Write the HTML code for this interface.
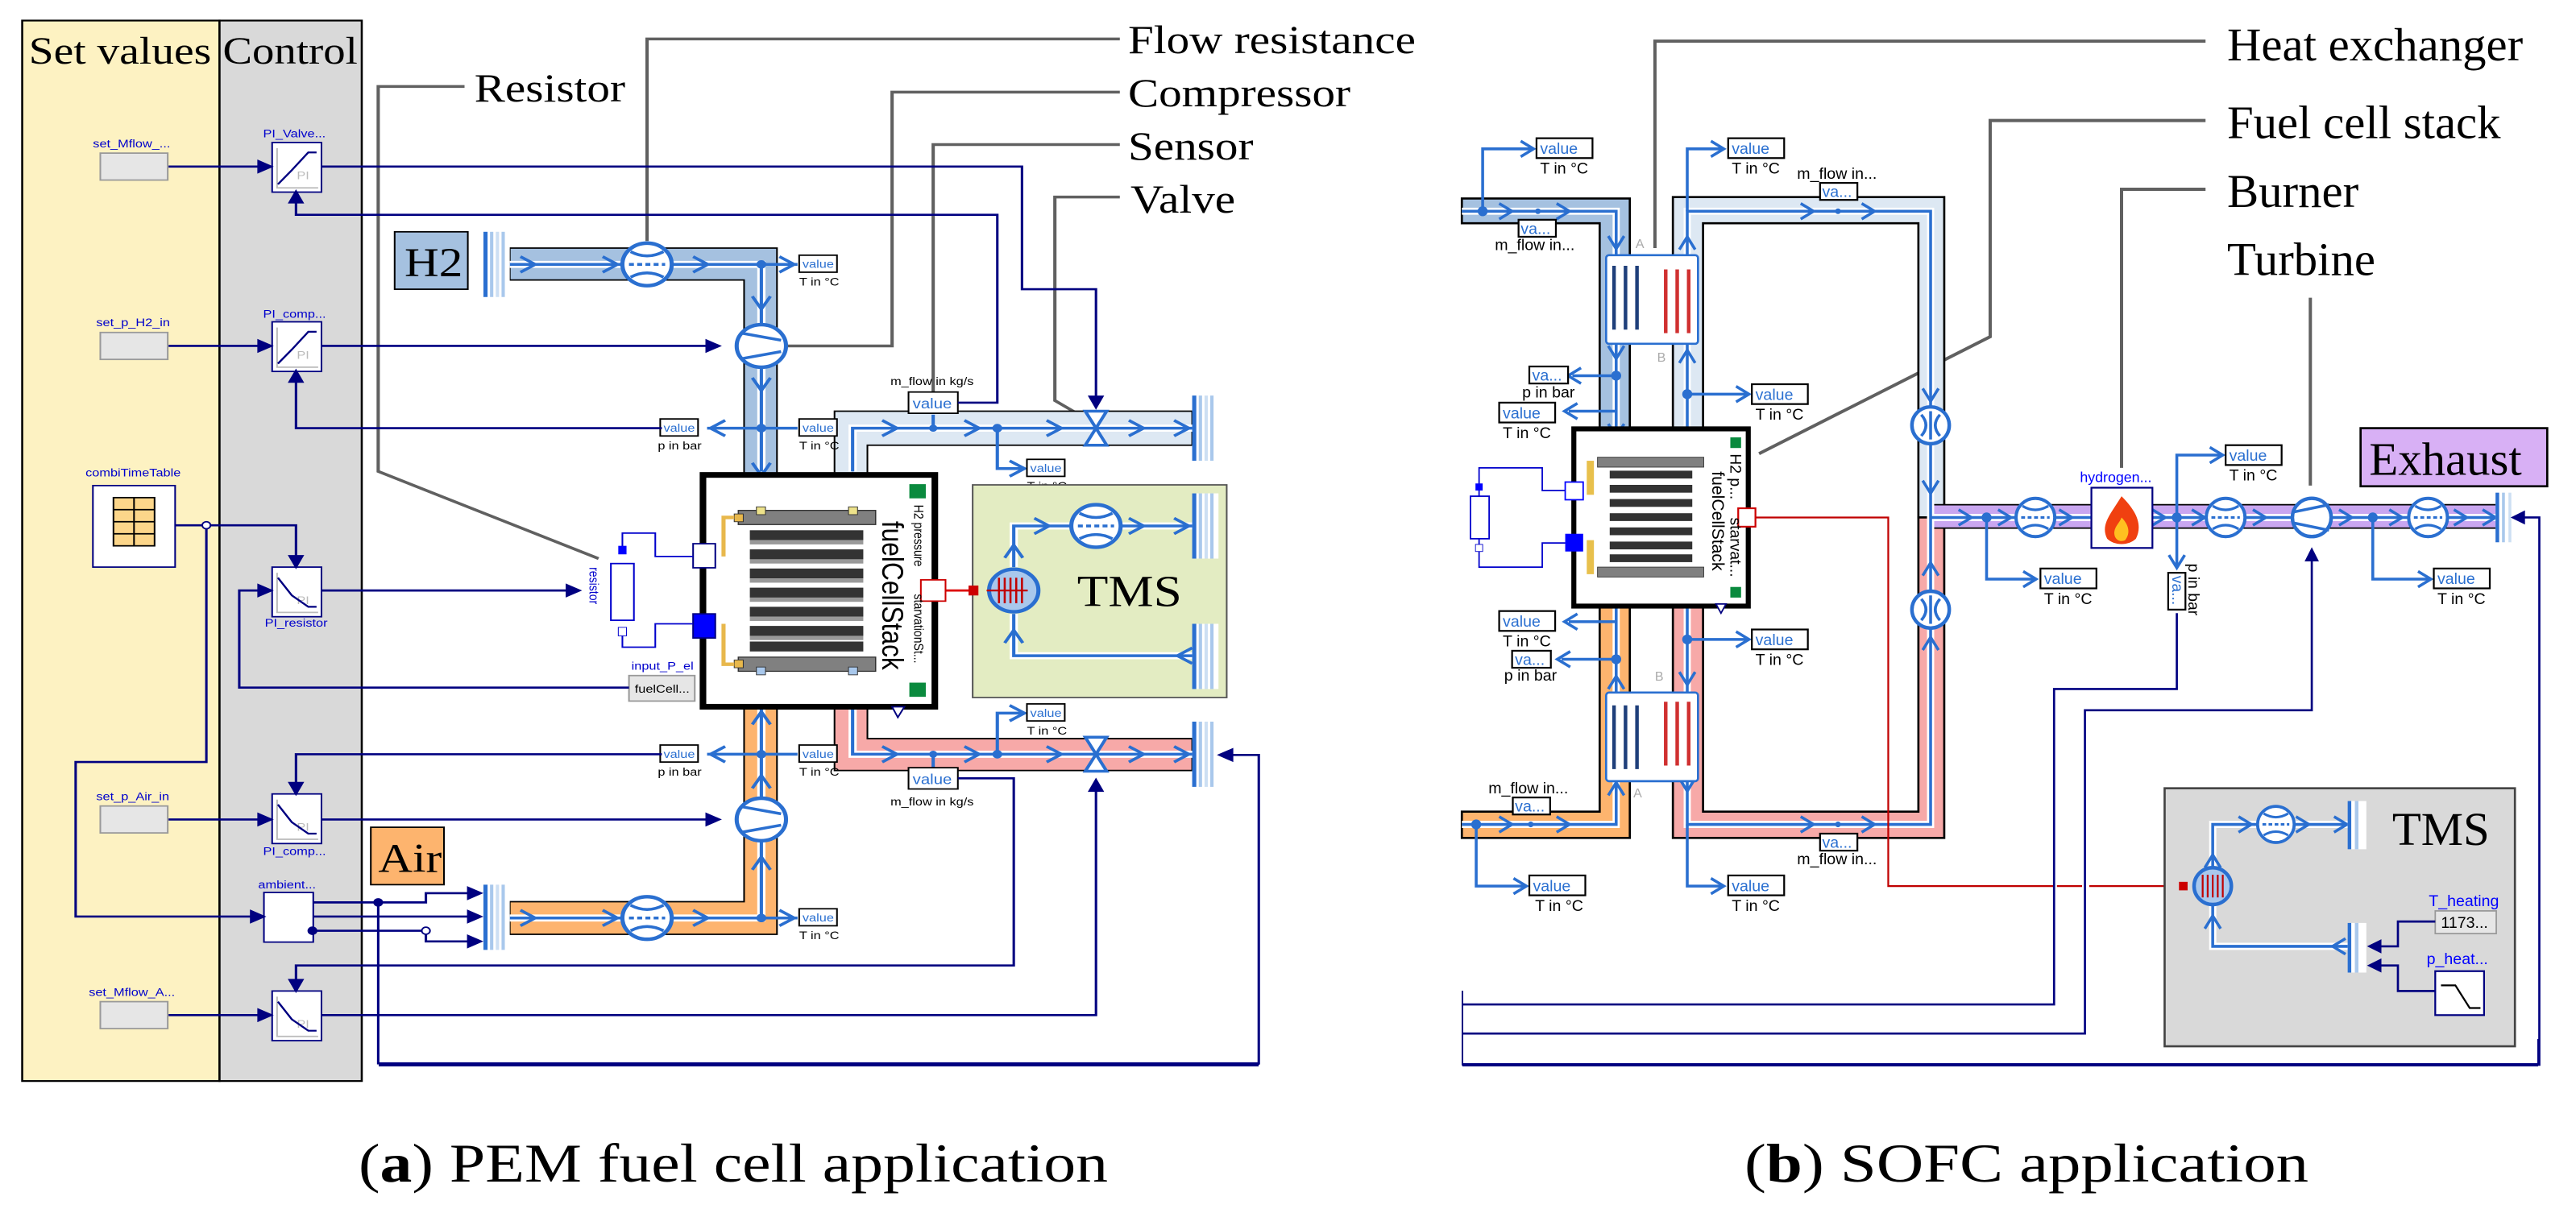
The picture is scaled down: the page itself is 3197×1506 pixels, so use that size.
<!DOCTYPE html>
<html><head><meta charset="utf-8"><style>
html,body{margin:0;padding:0;background:#fff;}
svg{display:block;}
.s{font-family:"Liberation Serif",serif;}
.a{font-family:"Liberation Sans",sans-serif;}
</style></head><body>
<svg width="3197" height="1506" viewBox="0 0 3197 1506" xmlns="http://www.w3.org/2000/svg">
<defs>
<path id="chR" d="M-12,-11 L6,0 L-12,11" fill="none" stroke="#2a6fd0" stroke-width="4"/>
<path id="arN" d="M-12,-10 L8,0 L-12,10Z" fill="#000080"/>
<g id="fr"><circle r="30" fill="#fff" stroke="#2a6fd0" stroke-width="5"/><line x1="-22" y1="0" x2="22" y2="0" stroke="#2a6fd0" stroke-width="4" stroke-dasharray="6,4"/><path d="M-20,-18 Q0,-6 20,-18 M-20,18 Q0,6 20,18" fill="none" stroke="#2a6fd0" stroke-width="4"/></g>
<g id="val"><rect x="0" y="0" width="46" height="24" fill="#fff" stroke="#000" stroke-width="2"/><text x="4" y="18" class="a" font-size="16" fill="#2a6fd0">value</text></g>
<g id="sink"><rect x="0" y="0" width="32" height="92" fill="#fff"/><rect x="0" y="0" width="5" height="92" fill="#2a6fd0"/><rect x="8" y="0" width="4" height="92" fill="#a9c8ec"/><rect x="15" y="0" width="4" height="92" fill="#cddff3"/><rect x="22" y="0" width="4" height="92" fill="#a9c8ec"/></g>
<g id="pi"><rect x="0" y="0" width="60" height="70" fill="#fff" stroke="#000080" stroke-width="2"/><path d="M6,8 V64 H56" fill="none" stroke="#bbb" stroke-width="2"/><text x="30" y="52" class="a" font-size="16" fill="#bbb">PI</text></g>
<g id="sv"><rect x="0" y="0" width="82" height="38" fill="#e6e6e6" stroke="#999" stroke-width="2"/></g>
</defs>

<!-- ================= LEFT (a) ================= -->
<g transform="scale(1.0204,0.8801)">
<rect x="27" y="29" width="240" height="1496" fill="#fdf2c2" stroke="#000" stroke-width="2.5"/>
<rect x="267" y="29" width="173" height="1496" fill="#d9d9d9" stroke="#000" stroke-width="2.5"/>
<text x="35" y="90" class="s" font-size="54" textLength="222" lengthAdjust="spacingAndGlyphs">Set values</text>
<text x="271" y="90" class="s" font-size="54" textLength="164" lengthAdjust="spacingAndGlyphs">Control</text>

<!-- annotation lines -->
<g fill="none" stroke="#606060" stroke-width="4">
<polyline points="565,122 460,122 460,665 728,788"/>
<polyline points="1362,55 787,55 787,340"/>
<polyline points="1362,130 1085,130 1085,488 958,488"/>
<polyline points="1362,204 1135,204 1135,555"/>
<polyline points="1362,278 1283,278 1283,565 1320,590"/>
</g>
<text x="577" y="143" class="s" font-size="56">Resistor</text>
<text x="1372" y="75" class="s" font-size="56">Flow resistance</text>
<text x="1372" y="150" class="s" font-size="56">Compressor</text>
<text x="1372" y="225" class="s" font-size="56">Sensor</text>
<text x="1375" y="300" class="s" font-size="56">Valve</text>

<rect x="480" y="327" width="89" height="81" fill="#a5c1e0" stroke="#000" stroke-width="2"/>
<text x="492" y="390" class="s" font-size="58">H2</text>
<rect x="451" y="1167" width="89" height="81" fill="#fdb46e" stroke="#000" stroke-width="2"/>
<text x="460" y="1230" class="s" font-size="58">Air</text>

<path d="M620,350 H945 V670 H905 V395 H620Z" fill="#a5c1e0" stroke="#000" stroke-width="2"/>
<path d="M620,1318 H945 V995 H905 V1272 H620Z" fill="#fdb46e" stroke="#000" stroke-width="2"/>
<path d="M1015,670 V580 H1450 V628 H1055 V670Z" fill="#dde8f3" stroke="#000" stroke-width="2"/>
<path d="M1015,995 V1087 H1450 V1042 H1055 V995Z" fill="#f7a9a8" stroke="#000" stroke-width="2"/>
<g fill="none" stroke="#fff" stroke-width="10">
<polyline points="620,373 926,373 926,665"/><polyline points="620,1295 926,1295 926,1000"/>
<polyline points="1037,665 1037,604 1450,604"/><polyline points="1037,1000 1037,1064 1450,1064"/>
</g>
<g fill="none" stroke="#2a6fd0" stroke-width="4">
<polyline points="620,373 926,373 926,665"/><polyline points="620,1295 926,1295 926,1000"/>
<polyline points="1037,665 1037,604 1450,604"/><polyline points="1037,1000 1037,1064 1450,1064"/>
<polyline points="926,373 970,373"/><polyline points="860,604 970,604"/><polyline points="860,1064 970,1064"/><polyline points="926,1295 970,1295"/>
<polyline points="1213,604 1213,661 1245,661"/><polyline points="1213,1064 1213,1006 1245,1006"/>
<polyline points="1135,604 1135,585"/><polyline points="1135,1064 1135,1083"/>
</g>
<g>
<use href="#chR" x="645" y="373"/><use href="#chR" x="745" y="373"/><use href="#chR" x="855" y="373"/><use href="#chR" x="960" y="373"/>
<use href="#chR" x="645" y="1295"/><use href="#chR" x="745" y="1295"/><use href="#chR" x="855" y="1295"/><use href="#chR" x="960" y="1295"/>
<use href="#chR" x="1085" y="604"/><use href="#chR" x="1185" y="604"/><use href="#chR" x="1285" y="604"/><use href="#chR" x="1385" y="604"/><use href="#chR" x="1440" y="604"/>
<use href="#chR" x="1085" y="1064"/><use href="#chR" x="1185" y="1064"/><use href="#chR" x="1285" y="1064"/><use href="#chR" x="1385" y="1064"/><use href="#chR" x="1440" y="1064"/>
<use href="#chR" x="1240" y="661"/><use href="#chR" x="1240" y="1006"/>
<use href="#chR" transform="translate(926,430) rotate(90)"/><use href="#chR" transform="translate(926,545) rotate(90)"/><use href="#chR" transform="translate(926,665) rotate(90)"/>
<use href="#chR" transform="translate(926,1010) rotate(-90)"/><use href="#chR" transform="translate(926,1100) rotate(-90)"/><use href="#chR" transform="translate(926,1215) rotate(-90)"/>
<use href="#chR" transform="translate(1037,675) rotate(-90)"/><use href="#chR" transform="translate(1037,990) rotate(90)"/>
<use href="#chR" transform="translate(870,604) rotate(180)"/><use href="#chR" transform="translate(870,1064) rotate(180)"/>
</g>
<g fill="#2a6fd0"><circle cx="926" cy="373" r="6"/><circle cx="926" cy="604" r="6"/><circle cx="926" cy="1064" r="6"/><circle cx="926" cy="1295" r="6"/><circle cx="1135" cy="604" r="5"/><circle cx="1213" cy="604" r="6"/><circle cx="1135" cy="1064" r="5"/><circle cx="1213" cy="1064" r="6"/></g>
<use href="#fr" x="787" y="373"/><use href="#fr" x="787" y="1295"/>
<g fill="#fff" stroke="#2a6fd0" stroke-width="5"><circle cx="926" cy="488" r="30"/><circle cx="926" cy="1156" r="30"/></g>
<g fill="none" stroke="#2a6fd0" stroke-width="4"><path d="M902,470 L950,480 M902,506 L950,496"/><path d="M902,1138 L950,1148 M902,1174 L950,1164"/></g>
<g fill="#fff" stroke="#2a6fd0" stroke-width="4"><path d="M1320,580 L1346,580 L1320,628 L1346,628Z"/><path d="M1320,1040 L1346,1040 L1320,1088 L1346,1088Z"/></g>
<use href="#sink" x="588" y="327"/><use href="#sink" x="588" y="1248"/>
<use href="#sink" x="1450" y="558"/><use href="#sink" x="1450" y="1018"/>
<use href="#val" x="972" y="360"/><text x="972" y="403" class="a" font-size="16">T in °C</text>
<use href="#val" x="972" y="591"/><text x="972" y="634" class="a" font-size="16">T in °C</text>
<use href="#val" x="803" y="591"/><text x="800" y="634" class="a" font-size="16">p in bar</text>
<use href="#val" x="972" y="1051"/><text x="972" y="1094" class="a" font-size="16">T in °C</text>
<use href="#val" x="803" y="1051"/><text x="800" y="1094" class="a" font-size="16">p in bar</text>
<use href="#val" x="972" y="1282"/><text x="972" y="1325" class="a" font-size="16">T in °C</text>
<use href="#val" x="1249" y="648"/><text x="1249" y="691" class="a" font-size="16">T in °C</text>
<use href="#val" x="1249" y="993"/><text x="1249" y="1036" class="a" font-size="16">T in °C</text>
<rect x="1105" y="553" width="60" height="30" fill="#fff" stroke="#000" stroke-width="2"/><text x="1110" y="576" class="a" font-size="20" fill="#2a6fd0">value</text>
<text x="1083" y="543" class="a" font-size="16">m_flow in kg/s</text>
<rect x="1105" y="1083" width="60" height="30" fill="#fff" stroke="#000" stroke-width="2"/><text x="1110" y="1106" class="a" font-size="20" fill="#2a6fd0">value</text>
<text x="1083" y="1136" class="a" font-size="16">m_flow in kg/s</text>

<rect x="1183" y="684" width="309" height="300" fill="#e3ecc2" stroke="#555" stroke-width="2"/>
<g fill="none" stroke="#fff" stroke-width="10"><polyline points="1233,800 1233,742 1450,742"/><polyline points="1450,925 1233,925 1233,866"/></g>
<g fill="none" stroke="#2a6fd0" stroke-width="4"><polyline points="1233,800 1233,742 1450,742"/><polyline points="1450,925 1233,925 1233,866"/></g>
<use href="#chR" x="1270" y="742"/><use href="#chR" x="1385" y="742"/><use href="#chR" x="1440" y="742"/><use href="#chR" transform="translate(1438,925) rotate(180)"/>
<use href="#chR" transform="translate(1233,775) rotate(-90)"/><use href="#chR" transform="translate(1233,895) rotate(-90)"/>
<use href="#fr" x="1333" y="742"/>
<circle cx="1233" cy="833" r="30" fill="#a9c8ec" stroke="#2a6fd0" stroke-width="5"/>
<g stroke="#c00000" stroke-width="2.5"><line x1="1215" y1="815" x2="1215" y2="851"/><line x1="1222" y1="815" x2="1222" y2="851"/><line x1="1229" y1="815" x2="1229" y2="851"/><line x1="1236" y1="815" x2="1236" y2="851"/><line x1="1243" y1="815" x2="1243" y2="851"/><line x1="1200" y1="833" x2="1250" y2="833"/></g>
<use href="#sink" x="1450" y="696"/><use href="#sink" x="1450" y="880"/>
<text x="1310" y="855" class="s" font-size="62">TMS</text>

<line x1="1050" y1="833" x2="1185" y2="833" stroke="#d00" stroke-width="3"/>
<rect x="1178" y="826" width="12" height="14" fill="#c00"/>
<rect x="855" y="670" width="282" height="327" fill="#fff" stroke="#000" stroke-width="8"/>
<rect x="898" y="720" width="167" height="20" fill="#808080" stroke="#333" stroke-width="1.5"/>
<rect x="898" y="927" width="167" height="20" fill="#808080" stroke="#333" stroke-width="1.5"/>
<g fill="#333"><rect x="912" y="748" width="138" height="14"/><rect x="912" y="775" width="138" height="14"/><rect x="912" y="802" width="138" height="14"/><rect x="912" y="829" width="138" height="14"/><rect x="912" y="856" width="138" height="14"/><rect x="912" y="883" width="138" height="14"/><rect x="912" y="905" width="138" height="14"/></g>
<g fill="#999"><rect x="912" y="762" width="138" height="6"/><rect x="912" y="789" width="138" height="6"/><rect x="912" y="816" width="138" height="6"/><rect x="912" y="843" width="138" height="6"/><rect x="912" y="870" width="138" height="6"/><rect x="912" y="897" width="138" height="6"/></g>
<rect x="920" y="715" width="11" height="11" fill="#ede28a" stroke="#333"/><rect x="1032" y="715" width="11" height="11" fill="#ede28a" stroke="#333"/>
<rect x="920" y="941" width="11" height="11" fill="#a9c8ec" stroke="#333"/><rect x="1032" y="941" width="11" height="11" fill="#a9c8ec" stroke="#333"/>
<rect x="893" y="725" width="11" height="11" fill="#e8b84c" stroke="#333"/><rect x="893" y="931" width="11" height="11" fill="#e8b84c" stroke="#333"/>
<path d="M893,730 H880 V785 M893,937 H880 V880" fill="none" stroke="#e8b84c" stroke-width="5"/>
<rect x="1106" y="683" width="20" height="20" fill="#0a8a3e"/><rect x="1106" y="963" width="20" height="20" fill="#0a8a3e"/>
<rect x="1120" y="818" width="30" height="30" fill="#fff" stroke="#c00" stroke-width="2"/>
<text transform="translate(1073,735) rotate(90)" class="a" font-size="36">fuelCellStack</text>
<text transform="translate(1112,712) rotate(90)" class="a" font-size="16">H2 pressure</text>
<text transform="translate(1112,838) rotate(90)" class="a" font-size="16">starvationSt...</text>
<path d="M1085,997 L1100,997 L1092,1012Z" fill="#fff" stroke="#000080" stroke-width="2"/>
<rect x="843" y="767" width="27" height="34" fill="#fff" stroke="#000080" stroke-width="2"/>
<rect x="843" y="866" width="27" height="34" fill="#0000ff" stroke="#000080" stroke-width="2"/>
<path d="M757,777 V752 H797 V785 H843 M757,892 V913 H797 V880 H843" fill="none" stroke="#0000cc" stroke-width="2"/>
<rect x="743" y="795" width="28" height="80" fill="#fff" stroke="#0000cc" stroke-width="2"/>
<rect x="752" y="770" width="10" height="12" fill="#0000ff"/><rect x="752" y="885" width="10" height="12" fill="#fff" stroke="#0000cc"/>
<text transform="translate(717,800) rotate(90)" class="a" font-size="16" fill="#0000cc">resistor</text>
<text x="768" y="945" class="a" font-size="16" fill="#0000cc">input_P_el</text>
<rect x="765" y="953" width="80" height="36" fill="#e6e6e6" stroke="#999" stroke-width="2"/><text x="772" y="977" class="a" font-size="16">fuelCell...</text>

<use href="#sv" x="122" y="216"/><text x="113" y="208" class="a" font-size="16" fill="#0000cc">set_Mflow_...</text>
<use href="#sv" x="122" y="469"/><text x="117" y="460" class="a" font-size="16" fill="#0000cc">set_p_H2_in</text>
<use href="#sv" x="122" y="1137"/><text x="117" y="1129" class="a" font-size="16" fill="#0000cc">set_p_Air_in</text>
<use href="#sv" x="122" y="1413"/><text x="108" y="1405" class="a" font-size="16" fill="#0000cc">set_Mflow_A...</text>
<text x="104" y="672" class="a" font-size="16" fill="#0000cc">combiTimeTable</text>
<rect x="113" y="685" width="100" height="115" fill="#fff" stroke="#000080" stroke-width="2"/>
<rect x="138" y="702" width="50" height="68" fill="#fcd68a" stroke="#000" stroke-width="2"/>
<path d="M163,702 V770 M138,719 H188 M138,736 H188 M138,753 H188" stroke="#000" stroke-width="2"/>
<use href="#pi" x="331" y="201"/><text x="320" y="194" class="a" font-size="16" fill="#0000cc">PI_Valve...</text>
<use href="#pi" x="331" y="454"/><text x="320" y="448" class="a" font-size="16" fill="#0000cc">PI_comp...</text>
<use href="#pi" x="331" y="800"/><text x="322" y="884" class="a" font-size="16" fill="#0000cc">PI_resistor</text>
<use href="#pi" x="331" y="1120"/><text x="320" y="1206" class="a" font-size="16" fill="#0000cc">PI_comp...</text>
<rect x="321" y="1259" width="60" height="70" fill="#fff" stroke="#000080" stroke-width="2"/><text x="314" y="1253" class="a" font-size="16" fill="#0000cc">ambient...</text>
<use href="#pi" x="331" y="1398"/>
<g fill="none" stroke="#000080" stroke-width="2.5">
<path d="M338,260 L355,240 L375,215 L385,215"/><path d="M338,513 L355,493 L375,468 L385,468"/>
<path d="M338,815 L355,840 L375,856 L385,856"/><path d="M338,1135 L355,1160 L375,1176 L385,1176"/><path d="M338,1413 L355,1438 L375,1454 L385,1454"/>
</g>
<g fill="none" stroke="#000080" stroke-width="3">
<polyline points="205,235 325,235"/><polyline points="205,488 325,488"/><polyline points="205,1156 325,1156"/><polyline points="205,1432 325,1432"/>
<polyline points="391,235 1243,235 1243,408 1333,408 1333,565"/>
<polyline points="1165,568 1213,568 1213,303 360,303 360,278"/>
<polyline points="391,488 870,488"/>
<polyline points="805,604 360,604 360,530"/>
<polyline points="213,741 360,741 360,792"/>
<polyline points="251,741 251,1075 92,1075 92,1293 316,1293"/>
<polyline points="391,833 700,833"/>
<polyline points="765,970 291,970 291,833 325,833"/>
<polyline points="805,1064 360,1064 360,1112"/>
<polyline points="391,1156 870,1156"/>
<polyline points="381,1273 518,1273 518,1260 580,1260"/>
<polyline points="381,1293 580,1293"/>
<polyline points="381,1313 518,1313 518,1328 580,1328"/>
<polyline points="1165,1098 1233,1098 1233,1362 360,1362 360,1390"/>
<polyline points="391,1432 1333,1432 1333,1110"/>
<polyline points="460,1273 460,1500 1531,1500 1531,1065 1490,1065"/>
</g>
<circle cx="251" cy="741" r="5" fill="#fff" stroke="#000080" stroke-width="2"/>
<circle cx="460" cy="1273" r="6" fill="#000080"/><circle cx="380" cy="1313" r="6" fill="#000080"/>
<circle cx="518" cy="1313" r="5" fill="#fff" stroke="#000080" stroke-width="2"/>
<g>
<use href="#arN" x="325" y="235"/><use href="#arN" x="325" y="488"/><use href="#arN" x="325" y="1156"/><use href="#arN" x="325" y="1432"/>
<use href="#arN" x="870" y="488"/><use href="#arN" x="870" y="1156"/><use href="#arN" x="700" y="833"/><use href="#arN" x="325" y="833"/>
<use href="#arN" x="580" y="1260"/><use href="#arN" x="580" y="1293"/><use href="#arN" x="580" y="1328"/><use href="#arN" x="316" y="1293"/>
<use href="#arN" transform="translate(1333,570) rotate(90)"/><use href="#arN" transform="translate(360,275) rotate(-90)"/><use href="#arN" transform="translate(360,528) rotate(-90)"/>
<use href="#arN" transform="translate(360,795) rotate(90)"/><use href="#arN" transform="translate(360,1115) rotate(90)"/><use href="#arN" transform="translate(360,1393) rotate(90)"/>
<use href="#arN" transform="translate(1333,1105) rotate(-90)"/><use href="#arN" transform="translate(1488,1065) rotate(180)"/>
</g>
</g>
<line x1="470" y1="1322" x2="1562" y2="1322" stroke="#000080" stroke-width="4"/>
<line x1="1562" y1="940" x2="1562" y2="1322" stroke="#000080" stroke-width="2"/>

<!-- ================= RIGHT (b) ================= -->
<g transform="translate(1800,0) scale(0.8909,0.8801)">
<g fill="none" stroke="#606060" stroke-width="4.5">
<polyline points="1052,58 285,58 285,350"/>
<polyline points="1052,170 752,170 752,475 430,640"/>
<polyline points="1052,267 935,267 935,660"/>
<polyline points="1198,420 1198,685"/>
</g>
<text x="1082" y="85" class="s" font-size="66">Heat exchanger</text>
<text x="1082" y="195" class="s" font-size="66">Fuel cell stack</text>
<text x="1082" y="292" class="s" font-size="66">Burner</text>
<text x="1082" y="388" class="s" font-size="66">Turbine</text>
<rect x="1268" y="604" width="260" height="82" fill="#d8b0f5" stroke="#000" stroke-width="3"/>
<text x="1280" y="670" class="s" font-size="66">Exhaust</text>

<path d="M16,280 H250 V605 H208 V315 H16Z" fill="#a5c1e0" stroke="#000" stroke-width="3"/>
<path d="M16,1182 H250 V855 H208 V1145 H16Z" fill="#fdb46e" stroke="#000" stroke-width="3"/>
<path d="M310,605 V278 H688 V730 H652 V315 H352 V605Z" fill="#dde8f3" stroke="#000" stroke-width="3"/>
<path d="M310,855 V1182 H688 V730 H652 V1145 H352 V855Z" fill="#f7a9a8" stroke="#000" stroke-width="3"/>
<rect x="668" y="712" width="790" height="33" fill="#c9a6f0" stroke="#000" stroke-width="2"/>
<g fill="none" stroke="#fff" stroke-width="10">
<polyline points="16,298 231,298 231,605"/><polyline points="16,1163 231,1163 231,855"/>
<polyline points="330,605 330,298 669,298 669,730"/><polyline points="330,855 330,1163 669,1163 669,730"/>
<line x1="669" y1="730" x2="1458" y2="730"/>
</g>
<g fill="none" stroke="#2a6fd0" stroke-width="4">
<polyline points="16,298 231,298 231,605"/><polyline points="16,1163 231,1163 231,855"/>
<polyline points="330,605 330,298 669,298 669,730"/><polyline points="330,855 330,1163 669,1163 669,730"/>
<line x1="669" y1="730" x2="1458" y2="730"/>
<polyline points="45,298 45,210 115,210"/><polyline points="330,298 330,210 380,210"/>
<polyline points="231,530 170,530"/><polyline points="231,580 165,580"/>
<polyline points="330,556 415,556"/><polyline points="330,902 415,902"/>
<polyline points="231,877 165,877"/><polyline points="231,930 155,930"/>
<polyline points="36,1163 36,1250 105,1250"/><polyline points="330,1163 330,1250 380,1250"/>
<polyline points="747,730 747,817 815,817"/><polyline points="1012,730 1012,642 1075,642"/><polyline points="1012,730 1012,800"/>
<polyline points="1285,730 1285,817 1365,817"/>
</g>
<g>
<use href="#chR" x="80" y="298"/><use href="#chR" x="160" y="298"/><use href="#chR" x="500" y="298"/><use href="#chR" x="585" y="298"/>
<use href="#chR" x="80" y="1163"/><use href="#chR" x="160" y="1163"/><use href="#chR" x="500" y="1163"/><use href="#chR" x="585" y="1163"/>
<use href="#chR" x="720" y="730"/><use href="#chR" x="775" y="730"/><use href="#chR" x="860" y="730"/><use href="#chR" x="990" y="730"/><use href="#chR" x="1045" y="730"/><use href="#chR" x="1130" y="730"/><use href="#chR" x="1250" y="730"/><use href="#chR" x="1320" y="730"/><use href="#chR" x="1410" y="730"/><use href="#chR" x="1450" y="730"/>
<use href="#chR" x="110" y="210"/><use href="#chR" x="375" y="210"/><use href="#chR" x="410" y="556"/><use href="#chR" x="410" y="902"/><use href="#chR" x="100" y="1250"/><use href="#chR" x="375" y="1250"/><use href="#chR" x="810" y="817"/><use href="#chR" x="1070" y="642"/><use href="#chR" x="1360" y="817"/>
<use href="#chR" transform="translate(170,530) rotate(180)"/><use href="#chR" transform="translate(165,580) rotate(180)"/><use href="#chR" transform="translate(165,877) rotate(180)"/><use href="#chR" transform="translate(155,930) rotate(180)"/>
<use href="#chR" transform="translate(231,345) rotate(90)"/><use href="#chR" transform="translate(231,500) rotate(90)"/><use href="#chR" transform="translate(231,610) rotate(90)"/>
<use href="#chR" transform="translate(231,845) rotate(-90)"/><use href="#chR" transform="translate(231,960) rotate(-90)"/><use href="#chR" transform="translate(231,1110) rotate(-90)"/>
<use href="#chR" transform="translate(330,340) rotate(-90)"/><use href="#chR" transform="translate(330,500) rotate(-90)"/><use href="#chR" transform="translate(330,610) rotate(-90)"/>
<use href="#chR" transform="translate(330,845) rotate(90)"/><use href="#chR" transform="translate(330,960) rotate(90)"/><use href="#chR" transform="translate(330,1110) rotate(90)"/>
<use href="#chR" transform="translate(669,560) rotate(90)"/><use href="#chR" transform="translate(669,690) rotate(90)"/><use href="#chR" transform="translate(669,800) rotate(-90)"/><use href="#chR" transform="translate(669,905) rotate(-90)"/>
<use href="#chR" transform="translate(1012,795) rotate(90)"/>
</g>
<g fill="#2a6fd0"><circle cx="45" cy="298" r="7"/><circle cx="231" cy="530" r="7"/><circle cx="330" cy="556" r="7"/><circle cx="330" cy="902" r="7"/><circle cx="231" cy="930" r="7"/><circle cx="36" cy="1163" r="7"/><circle cx="747" cy="730" r="7"/><circle cx="1012" cy="730" r="7"/><circle cx="1285" cy="730" r="7"/><circle cx="122" cy="298" r="4"/><circle cx="540" cy="298" r="4"/><circle cx="540" cy="1163" r="4"/><circle cx="112" cy="1163" r="4"/></g>

<g>
<rect x="217" y="360" width="128" height="125" rx="4" fill="#fff" stroke="#2a6fd0" stroke-width="3"/>
<rect x="217" y="977" width="128" height="125" rx="4" fill="#fff" stroke="#2a6fd0" stroke-width="3"/>
<g stroke="#1f3f7a" stroke-width="5"><line x1="228" y1="375" x2="228" y2="465"/><line x1="244" y1="375" x2="244" y2="465"/><line x1="260" y1="375" x2="260" y2="465"/><line x1="228" y1="995" x2="228" y2="1085"/><line x1="244" y1="995" x2="244" y2="1085"/><line x1="260" y1="995" x2="260" y2="1085"/></g>
<g stroke="#d03030" stroke-width="5"><line x1="300" y1="380" x2="300" y2="470"/><line x1="316" y1="380" x2="316" y2="470"/><line x1="332" y1="380" x2="332" y2="470"/><line x1="300" y1="990" x2="300" y2="1080"/><line x1="316" y1="990" x2="316" y2="1080"/><line x1="332" y1="990" x2="332" y2="1080"/></g>
<text x="258" y="350" class="a" font-size="18" fill="#aaa">A</text><text x="288" y="510" class="a" font-size="18" fill="#aaa">B</text>
<text x="285" y="960" class="a" font-size="18" fill="#aaa">B</text><text x="255" y="1125" class="a" font-size="18" fill="#aaa">A</text>
</g>

<line x1="340" y1="730" x2="413" y2="730" stroke="#d00" stroke-width="3"/>
<polyline points="425,730 610,730 610,1250 840,1250" fill="none" stroke="#c00000" stroke-width="2.5"/>
<polyline points="890,1250 1020,1250" fill="none" stroke="#c00000" stroke-width="2.5"/>
<line x1="845" y1="1250" x2="880" y2="1250" stroke="#c00000" stroke-width="2.5"/>
<rect x="172" y="605" width="243" height="250" fill="#fff" stroke="#000" stroke-width="7"/>
<rect x="205" y="645" width="148" height="14" fill="#808080" stroke="#333"/>
<rect x="205" y="800" width="148" height="14" fill="#808080" stroke="#333"/>
<g fill="#333"><rect x="222" y="664" width="115" height="11"/><rect x="222" y="684" width="115" height="11"/><rect x="222" y="704" width="115" height="11"/><rect x="222" y="724" width="115" height="11"/><rect x="222" y="744" width="115" height="11"/><rect x="222" y="764" width="115" height="11"/><rect x="222" y="782" width="115" height="11"/></g>
<rect x="190" y="650" width="10" height="48" fill="#e8c04c"/><rect x="190" y="762" width="10" height="48" fill="#e8c04c"/>
<rect x="390" y="617" width="15" height="15" fill="#0a8a3e"/><rect x="390" y="828" width="15" height="15" fill="#0a8a3e"/>
<rect x="160" y="680" width="25" height="25" fill="#fff" stroke="#0000ff" stroke-width="2"/>
<rect x="160" y="753" width="25" height="25" fill="#0000ff"/>
<rect x="401" y="717" width="24" height="26" fill="#fff" stroke="#c00" stroke-width="2.5"/>
<text transform="translate(365,665) rotate(90)" class="a" font-size="24">fuelCellStack</text>
<text transform="translate(390,640) rotate(90)" class="a" font-size="22">H2 p...</text>
<text transform="translate(390,730) rotate(90)" class="a" font-size="22">starvat...</text>
<path d="M370,852 L384,852 L377,865Z" fill="#fff" stroke="#000080" stroke-width="2"/>
<path d="M160,692 H128 V660 H40 V800 H128 V766 H160" fill="none" stroke="#0000cc" stroke-width="2"/>
<rect x="28" y="700" width="26" height="60" fill="#fff" stroke="#0000cc" stroke-width="2"/>
<rect x="35" y="682" width="10" height="10" fill="#0000ff"/><rect x="35" y="768" width="10" height="10" fill="#fff" stroke="#0000cc"/>

<g fill="#fff" stroke="#2a6fd0" stroke-width="5"><circle cx="669" cy="600" r="26"/><circle cx="669" cy="860" r="26"/></g>
<g fill="none" stroke="#2a6fd0" stroke-width="4"><path d="M656,585 Q669,600 656,615 M682,585 Q669,600 682,615 M669,580 V620"/><path d="M656,845 Q669,860 656,875 M682,845 Q669,860 682,875 M669,840 V880"/></g>
<use href="#fr" transform="translate(815,730) scale(0.9)"/><use href="#fr" transform="translate(1080,730) scale(0.9)"/><use href="#fr" transform="translate(1362,730) scale(0.9)"/>
<text x="877" y="680" class="a" font-size="20" fill="#0000ff">hydrogen...</text>
<rect x="893" y="688" width="85" height="85" fill="#fff" stroke="#000080" stroke-width="2.5"/>
<path d="M935,700 C955,720 965,740 955,760 C945,770 925,770 915,760 C905,740 920,725 935,700Z" fill="#f04010"/>
<path d="M935,730 C945,740 948,752 940,762 C932,766 924,760 925,750 C926,742 932,738 935,730Z" fill="#ffc020"/>
<circle cx="1200" cy="730" r="27" fill="#fff" stroke="#2a6fd0" stroke-width="5"/>
<path d="M1176,722 L1224,712 M1176,738 L1224,748" stroke="#2a6fd0" stroke-width="4"/>
<rect x="1456" y="695" width="28" height="70" fill="#fff"/><rect x="1456" y="695" width="5" height="70" fill="#2a6fd0"/><rect x="1465" y="695" width="4" height="70" fill="#a9c8ec"/><rect x="1474" y="695" width="4" height="70" fill="#cddff3"/>

<g class="a" font-size="22">
<rect x="120" y="195" width="78" height="28" fill="#fff" stroke="#000" stroke-width="2.5"/><text x="125" y="217" fill="#2a6fd0">value</text><text x="125" y="245">T in °C</text>
<rect x="387" y="195" width="78" height="28" fill="#fff" stroke="#000" stroke-width="2.5"/><text x="392" y="217" fill="#2a6fd0">value</text><text x="392" y="245">T in °C</text>
<rect x="420" y="542" width="78" height="28" fill="#fff" stroke="#000" stroke-width="2.5"/><text x="425" y="564" fill="#2a6fd0">value</text><text x="425" y="592">T in °C</text>
<rect x="420" y="888" width="78" height="28" fill="#fff" stroke="#000" stroke-width="2.5"/><text x="425" y="910" fill="#2a6fd0">value</text><text x="425" y="938">T in °C</text>
<rect x="68" y="568" width="78" height="28" fill="#fff" stroke="#000" stroke-width="2.5"/><text x="73" y="590" fill="#2a6fd0">value</text><text x="73" y="618">T in °C</text>
<rect x="68" y="862" width="78" height="28" fill="#fff" stroke="#000" stroke-width="2.5"/><text x="73" y="884" fill="#2a6fd0">value</text><text x="73" y="912">T in °C</text>
<rect x="110" y="517" width="54" height="24" fill="#fff" stroke="#000" stroke-width="2.5"/><text x="114" y="537" fill="#2a6fd0">va...</text><text x="100" y="561">p in bar</text>
<rect x="86" y="918" width="54" height="24" fill="#fff" stroke="#000" stroke-width="2.5"/><text x="90" y="938" fill="#2a6fd0">va...</text><text x="75" y="960">p in bar</text>
<rect x="110" y="1235" width="78" height="28" fill="#fff" stroke="#000" stroke-width="2.5"/><text x="115" y="1257" fill="#2a6fd0">value</text><text x="118" y="1285">T in °C</text>
<rect x="387" y="1235" width="78" height="28" fill="#fff" stroke="#000" stroke-width="2.5"/><text x="392" y="1257" fill="#2a6fd0">value</text><text x="392" y="1285">T in °C</text>
<rect x="822" y="802" width="78" height="28" fill="#fff" stroke="#000" stroke-width="2.5"/><text x="827" y="824" fill="#2a6fd0">value</text><text x="827" y="852">T in °C</text>
<rect x="1080" y="628" width="78" height="28" fill="#fff" stroke="#000" stroke-width="2.5"/><text x="1085" y="650" fill="#2a6fd0">value</text><text x="1085" y="678">T in °C</text>
<rect x="1370" y="802" width="78" height="28" fill="#fff" stroke="#000" stroke-width="2.5"/><text x="1375" y="824" fill="#2a6fd0">value</text><text x="1375" y="852">T in °C</text>
<rect x="95" y="310" width="52" height="24" fill="#fff" stroke="#000" stroke-width="2.5"/><text x="98" y="330" fill="#2a6fd0">va...</text><text x="62" y="353">m_flow in...</text>
<rect x="515" y="258" width="52" height="24" fill="#fff" stroke="#000" stroke-width="2.5"/><text x="518" y="278" fill="#2a6fd0">va...</text><text x="483" y="252">m_flow in...</text>
<rect x="87" y="1125" width="52" height="24" fill="#fff" stroke="#000" stroke-width="2.5"/><text x="90" y="1145" fill="#2a6fd0">va...</text><text x="53" y="1119">m_flow in...</text>
<rect x="515" y="1176" width="52" height="24" fill="#fff" stroke="#000" stroke-width="2.5"/><text x="518" y="1196" fill="#2a6fd0">va...</text><text x="483" y="1219">m_flow in...</text>
<rect x="1000" y="808" width="24" height="52" fill="#fff" stroke="#000" stroke-width="2.5"/>
<text transform="translate(1006,812) rotate(90)" fill="#2a6fd0">va...</text>
<text transform="translate(1028,795) rotate(90)">p in bar</text>
</g>

<rect x="995" y="1112" width="488" height="364" fill="#d9d9d9" stroke="#444" stroke-width="3"/>
<text x="1312" y="1192" class="s" font-size="66">TMS</text>
<g fill="none" stroke="#fff" stroke-width="10"><polyline points="1062,1225 1062,1163 1250,1163"/><polyline points="1250,1335 1062,1335 1062,1275"/></g>
<g fill="none" stroke="#2a6fd0" stroke-width="4"><polyline points="1062,1225 1062,1163 1250,1163"/><polyline points="1250,1335 1062,1335 1062,1275"/></g>
<use href="#chR" x="1110" y="1163"/><use href="#chR" x="1190" y="1163"/><use href="#chR" x="1243" y="1163"/><use href="#chR" transform="translate(1235,1335) rotate(180)"/>
<use href="#chR" transform="translate(1062,1212) rotate(-90)"/><use href="#chR" transform="translate(1062,1298) rotate(-90)"/>
<use href="#fr" transform="translate(1150,1163) scale(0.85)"/>
<circle cx="1062" cy="1250" r="26" fill="#a9c8ec" stroke="#2a6fd0" stroke-width="5"/>
<g stroke="#c00000" stroke-width="2.5"><line x1="1048" y1="1234" x2="1048" y2="1266"/><line x1="1055" y1="1234" x2="1055" y2="1266"/><line x1="1062" y1="1234" x2="1062" y2="1266"/><line x1="1069" y1="1234" x2="1069" y2="1266"/><line x1="1076" y1="1234" x2="1076" y2="1266"/></g>
<rect x="1015" y="1244" width="12" height="12" fill="#c00"/>
<rect x="1250" y="1130" width="26" height="68" fill="#fff"/><rect x="1250" y="1130" width="5" height="68" fill="#2a6fd0"/><rect x="1260" y="1130" width="5" height="68" fill="#a9c8ec"/>
<rect x="1250" y="1302" width="26" height="70" fill="#fff"/><rect x="1250" y="1302" width="5" height="70" fill="#2a6fd0"/><rect x="1260" y="1302" width="5" height="70" fill="#a9c8ec"/>
<text x="1363" y="1278" class="a" font-size="22" fill="#0000ff">T_heating</text>
<rect x="1372" y="1285" width="85" height="32" fill="#e6e6e6" stroke="#999" stroke-width="2"/><text x="1380" y="1309" class="a" font-size="22">1173...</text>
<text x="1360" y="1360" class="a" font-size="22" fill="#0000ff">p_heat...</text>
<rect x="1372" y="1370" width="68" height="62" fill="#fff" stroke="#000080" stroke-width="2.5"/>
<path d="M1380,1390 L1400,1390 L1420,1422 L1435,1422" fill="none" stroke="#000" stroke-width="2.5"/>
<g fill="none" stroke="#000080" stroke-width="3">
<polyline points="1372,1300 1320,1300 1320,1335 1285,1335"/>
<polyline points="1372,1398 1320,1398 1320,1362 1285,1362"/>
</g>
<use href="#arN" transform="translate(1285,1335) rotate(180)"/><use href="#arN" transform="translate(1285,1362) rotate(180)"/>

<g fill="none" stroke="#000080" stroke-width="3">
<polyline points="16,1417 841,1417 841,972 1012,972 1012,865"/>
<polyline points="16,1458 884,1458 884,1002 1200,1002 1200,785"/>
<polyline points="16,1502 1517,1502 1517,730 1490,730"/>
</g>
<use href="#arN" transform="translate(1200,780) rotate(-90)"/><use href="#arN" transform="translate(1485,730) rotate(180)"/>
</g>
<line x1="1815" y1="1322" x2="3150" y2="1322" stroke="#000080" stroke-width="4"/>
<line x1="1815" y1="1230" x2="1815" y2="1322" stroke="#000080" stroke-width="2"/>
<line x1="3150" y1="1290" x2="3150" y2="1322" stroke="#000080" stroke-width="2"/>

<text x="445" y="1467" class="s" font-size="68" textLength="930" lengthAdjust="spacingAndGlyphs">(<tspan font-weight="bold">a</tspan>) PEM fuel cell application</text>
<text x="2165" y="1467" class="s" font-size="68" textLength="700" lengthAdjust="spacingAndGlyphs">(<tspan font-weight="bold">b</tspan>) SOFC application</text>
</svg>
</body></html>
